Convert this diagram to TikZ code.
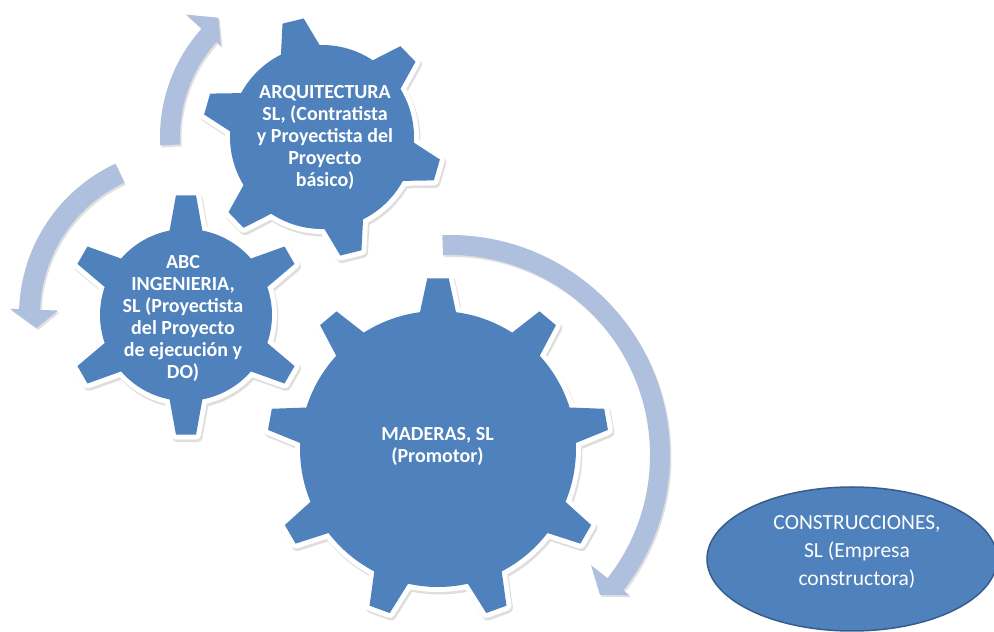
\documentclass[tikz,border=0pt]{standalone}
\usepackage{fontspec}
\setmainfont{Carlito}
\usetikzlibrary{calc,shapes.geometric}
\definecolor{gearblue}{HTML}{4F81BD}
\definecolor{arrowblue}{HTML}{AEC0DD}
\definecolor{ellborder}{HTML}{385D8A}
% #1 centre, #2 teeth, #3 tip radius, #4 root radius, #5 first tooth angle, #6 tip half angle, #7 base half angle
\newcommand\gearshape[7]{%
  \begin{scope}[shift={(#1)}]
  \path[gearbody] ({#5-#7}:#4)
    \foreach \k [evaluate=\k as \ga using {#5+(\k-1)*360/#2}] in {1,...,#2}{
      -- ({\ga-#6}:#3) -- ({\ga+#6}:#3) -- ({\ga+#7}:#4)
      arc[start angle={\ga+#7}, end angle={\ga+360/#2-#7}, radius=#4pt]
    } -- cycle;
  \end{scope}}
\tikzset{
  gearbody/.style={fill=gearblue, line join=miter,
    preaction={fill=black, draw=black, line width=10pt, line join=round, opacity=0.13,
      transform canvas={shift={(1.5pt,-2.5pt)}}},
    preaction={fill=white, draw=white, line width=10pt, line join=round}},
  arrowbody/.style={fill=arrowblue,
    preaction={fill=black, opacity=0.12, transform canvas={shift={(1.5pt,-2pt)}}}},
  gtext/.style={text=white, align=center, inner sep=0pt,
    font=\bfseries\fontsize{20}{22}\selectfont},
  etext/.style={text=white, align=center, inner sep=0pt,
    font=\fontsize{21.5}{28}\selectfont},
}
\begin{document}
\begin{tikzpicture}[x=1pt, y=1pt]
\useasboundingbox (0,0) rectangle (994,632);
% centres
\coordinate (cbig) at (438,183);
\coordinate (cmid) at (186,317);
\coordinate (ctop) at (322,495);
\coordinate (carcA) at (450,177);
% circular arrows
\path[arrowbody] ($(carcA)+(92:220)$) arc[start angle=92, end angle=-38, radius=220pt]
  -- ($(carcA)+(-38:228)$) -- ($(carcA)+(-43:205)$) -- ($(carcA)+(-38:179)$)
  -- ($(carcA)+(-38:200)$) arc[start angle=-38, end angle=92, radius=200pt] -- cycle;
\path[arrowbody] ($(ctop)+(183:162)$) arc[start angle=183, end angle=138, radius=162pt]
  -- ($(ctop)+(138:183)$) -- ($(ctop)+(131:158)$) -- ($(ctop)+(138:136)$)
  -- ($(ctop)+(138:142)$) arc[start angle=138, end angle=183, radius=142pt] -- cycle;
\path[arrowbody] ($(cmid)+(115:167)$) arc[start angle=115, end angle=178, radius=167pt]
  -- ($(cmid)+(178:176)$) -- ($(cmid)+(185:150)$) -- ($(cmid)+(178:128)$)
  -- ($(cmid)+(178:146)$) arc[start angle=178, end angle=115, radius=146pt] -- cycle;
% gears
\gearshape{cbig}{9}{171}{138}{90}{3.6}{7.5}
\gearshape{cmid}{6}{120}{86}{90}{4.8}{11}
\gearshape{ctop}{6}{120}{92}{104}{5.2}{12.5}
% texts
\node[gtext] (tbig) at (437.5,186) {MADERAS, SL\\(Promotor)};
\node[gtext] (tmid) at (183,314) {ABC\\INGENIERIA,\\SL (Proyectista\\del Proyecto\\de ejecución y\\DO)};
\node[gtext] (ttop) at (325,495) {ARQUITECTURA\\SL, (Contratista\\y Proyectista del\\Proyecto\\básico)};
% ellipse
\node[ellipse, fill=gearblue, draw=ellborder, line width=1.5pt,
  minimum width=290pt, minimum height=144pt, inner sep=0pt] (ell) at (852,73) {};
\node[etext] (elltext) at ($(ell.center)+(5,7)$) {CONSTRUCCIONES,\\SL (Empresa\\constructora)};
\end{tikzpicture}
\end{document}
